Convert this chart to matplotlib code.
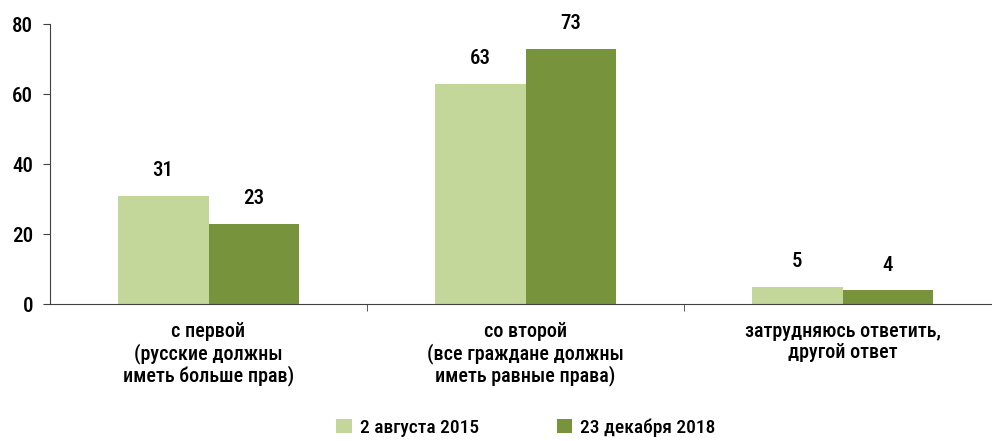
import matplotlib
matplotlib.use("Agg")
import matplotlib.pyplot as plt
from matplotlib import font_manager
import numpy as np

categories = ["с первой\n(русские должны\nиметь больше прав)",
              "со второй\n(все граждане должны\nиметь равные права)",
              "затрудняюсь ответить,\nдругой ответ"]
series_names = ["2 августа 2015", "23 декабря 2018"]
values_2015 = [31, 63, 5]
values_2018 = [23, 73, 4]
colors = ["#C4D79B", "#77933C"]

names = {f.name for f in font_manager.fontManager.ttflist}
fam = [f for f in ["Roboto Condensed", "Liberation Sans Narrow", "Open Sans Condensed"] if f in names]
plt.rcParams['font.family'] = fam + ['DejaVu Sans']
plt.rcParams['font.weight'] = 500

fig = plt.figure(figsize=(9.92, 4.41), dpi=100)
ax = fig.add_axes([50/992, 1-304/441, 1-50/992, (304-24)/441])

x = np.arange(len(categories))
w = 0.287
b1 = ax.bar(x - w/2, values_2015, w, color=colors[0], label=series_names[0])
b2 = ax.bar(x + w/2, values_2018, w, color=colors[1], label=series_names[1])
for bars, vals in ((b1, values_2015), (b2, values_2018)):
    for r, v in zip(bars, vals):
        ax.annotate(str(v), (r.get_x() + r.get_width()/2, v), xytext=(0, 11),
                    textcoords="offset points", ha="center", va="bottom", fontsize=15)

ax.set_ylim(0, 80)
ax.set_yticks([0, 20, 40, 60, 80])
ax.set_xlim(-0.5, 2.5 - 9/317)
ax.set_xticks(x)
ax.set_xticklabels(categories, fontsize=14.5, linespacing=1.1)
ax.tick_params(axis='x', which='major', length=0, pad=13)
ax.set_xticks([0.5, 1.5], minor=True)
ax.tick_params(axis='x', which='minor', length=5, direction='out', color='#404040')
ax.tick_params(axis='y', length=5, direction='out', labelsize=15, color='#404040', pad=7)
for s in ['top', 'right']:
    ax.spines[s].set_visible(False)
ax.spines['left'].set_color('#404040')
ax.spines['bottom'].set_color('#404040')

fig.legend(handles=[b1, b2], labels=series_names, loc='lower center',
           bbox_to_anchor=(0.53, -0.03), ncol=2, frameon=False, fontsize=14,
           handlelength=0.8, handleheight=0.8, handletextpad=0.4, columnspacing=4)

fig.savefig("out.png", dpi=100)
